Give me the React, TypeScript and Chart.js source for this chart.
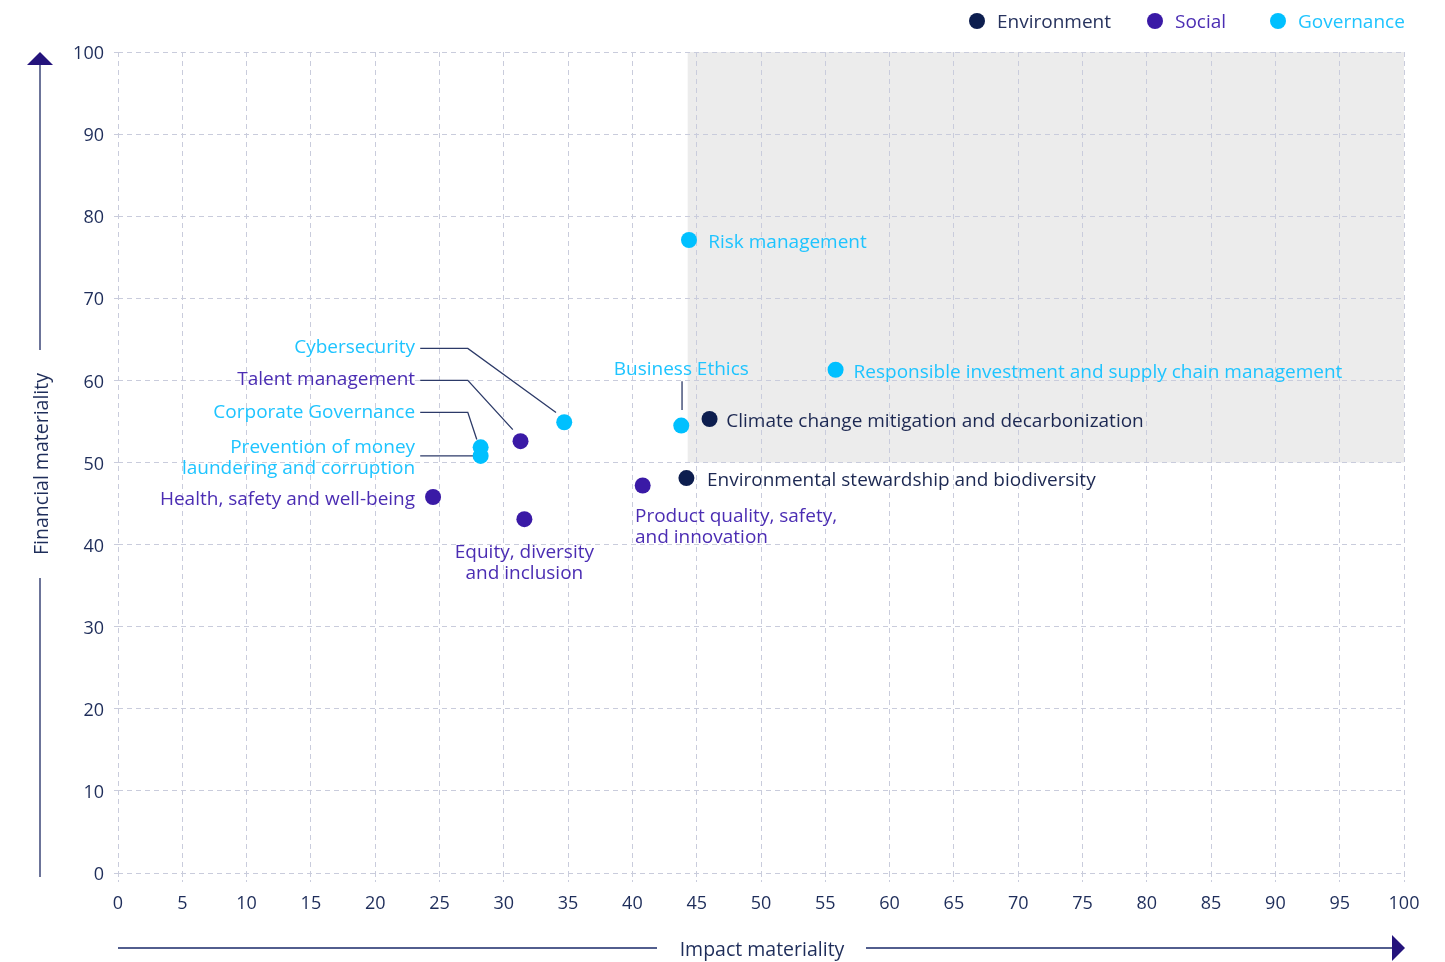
import { useEffect, useRef } from "react";
import { Chart, registerables } from "chart.js";

Chart.register(...registerables);

const FONT = "'Open Sans', sans-serif";

// ---- Data ----
const seriesNames = ["Environment", "Social", "Governance"];

const environmentTopics = [
  "Climate change mitigation and decarbonization",
  "Environmental stewardship and biodiversity",
];
const environmentImpact = [46.0, 44.2];
const environmentFinancial = [55.3, 48.1];

const socialTopics = [
  "Talent management",
  "Health, safety and well-being",
  "Equity, diversity and inclusion",
  "Product quality, safety, and innovation",
];
const socialImpact = [31.3, 24.5, 31.6, 40.8];
const socialFinancial = [52.6, 45.8, 43.1, 47.2];

const governanceTopics = [
  "Risk management",
  "Responsible investment and supply chain management",
  "Business Ethics",
  "Cybersecurity",
  "Corporate Governance",
  "Prevention of money laundering and corruption",
];
const governanceImpact = [44.4, 55.8, 43.8, 34.7, 28.2, 28.2];
const governanceFinancial = [77.1, 61.3, 54.5, 54.9, 51.85, 50.8];

const xTicks = [0, 5, 10, 15, 20, 25, 30, 35, 40, 45, 50, 55, 60, 65, 70, 75, 80, 85, 90, 95, 100];
const yTicks = [0, 10, 20, 30, 40, 50, 60, 70, 80, 90, 100];

const xAxisTitle = "Impact materiality";
const yAxisTitle = "Financial materiality";

// shaded "material" region (data units)
const shadeFromImpact = 44.3;
const shadeFromFinancial = 50;

// ---- Styles ----
const pointColors = ["#0d1e4f", "#3a1aa6", "#00c0ff"];
const labelColors = ["#1c2852", "#4b2db3", "#1ec4ff"];
const tickColor = "#1e2d5a";
const gridColor = "#c9ccdc";
const leaderColor = "#2c3a68";
const TEXT_DY = 2;

// ---- Label layout (data units for anchors) ----
type LabelSpec = {
  lines: string[];
  x: number;
  y: number;
  align: CanvasTextAlign;
  color: string;
  leader?: [number, number][];
};

const labelLayout: LabelSpec[] = [
  { lines: ["Cybersecurity"], x: 23.1, y: 64.3, align: "right", color: labelColors[2], leader: [[23.5, 63.9], [27.2, 63.9], [34.06, 56.1]] },
  { lines: ["Talent management"], x: 23.1, y: 60.3, align: "right", color: labelColors[1], leader: [[23.5, 60.0], [27.2, 60.0], [30.7, 54.0]] },
  { lines: ["Corporate Governance"], x: 23.1, y: 56.3, align: "right", color: labelColors[2], leader: [[23.5, 56.1], [27.2, 56.1], [27.9, 52.8]] },
  { lines: ["Prevention of money", "laundering and corruption"], x: 23.1, y: 52.1, align: "right", color: labelColors[2], leader: [[23.5, 50.8], [28.0, 50.8]] },
  { lines: ["Health, safety and well-being"], x: 23.1, y: 45.7, align: "right", color: labelColors[1] },
  { lines: ["Equity, diversity", "and inclusion"], x: 31.6, y: 39.3, align: "center", color: labelColors[1] },
  { lines: ["Product quality, safety,", "and innovation"], x: 40.2, y: 43.6, align: "left", color: labelColors[1] },
  { lines: ["Environmental stewardship and biodiversity"], x: 45.8, y: 48.0, align: "left", color: labelColors[0] },
  { lines: ["Climate change mitigation and decarbonization"], x: 47.3, y: 55.2, align: "left", color: labelColors[0] },
  { lines: ["Business Ethics"], x: 43.8, y: 61.6, align: "center", color: labelColors[2], leader: [[43.86, 59.9], [43.86, 56.4]] },
  { lines: ["Responsible investment and supply chain management"], x: 57.2, y: 61.2, align: "left", color: labelColors[2] },
  { lines: ["Risk management"], x: 45.9, y: 77.0, align: "left", color: labelColors[2] },
];

const toPoints = (xs: number[], ys: number[]) => xs.map((x, i) => ({ x, y: ys[i] }));

const decorPlugin = {
  id: "decor",
  beforeDraw(chart: any) {
    const { ctx, chartArea, scales } = chart;
    const x0 = scales.x.getPixelForValue(shadeFromImpact);
    const y0 = scales.y.getPixelForValue(shadeFromFinancial);
    ctx.save();
    ctx.fillStyle = "#ececec";
    ctx.fillRect(x0, chartArea.top, chartArea.right - x0, y0 - chartArea.top);
    ctx.restore();
  },
  beforeDatasetsDraw(chart: any) {
    const { ctx, scales } = chart;
    ctx.save();
    ctx.strokeStyle = leaderColor;
    ctx.lineWidth = 1.3;
    labelLayout.forEach((l) => {
      if (!l.leader) return;
      ctx.beginPath();
      l.leader.forEach(([vx, vy], i) => {
        const px = scales.x.getPixelForValue(vx);
        const py = scales.y.getPixelForValue(vy);
        if (i === 0) ctx.moveTo(px, py);
        else ctx.lineTo(px, py);
      });
      ctx.stroke();
    });
    ctx.restore();
  },
  afterDatasetsDraw(chart: any) {
    const { ctx, scales, chartArea } = chart;
    ctx.save();
    ctx.font = `19px ${FONT}`;
    ctx.textBaseline = "middle";
    labelLayout.forEach((l) => {
      ctx.fillStyle = l.color;
      ctx.textAlign = l.align;
      const px = scales.x.getPixelForValue(l.x);
      const py = scales.y.getPixelForValue(l.y) + TEXT_DY;
      l.lines.forEach((t, i) => ctx.fillText(t, px, py + i * 21));
    });

    // legend
    const legendX = [977, 1155, 1278];
    seriesNames.forEach((n, i) => {
      ctx.fillStyle = pointColors[i];
      ctx.beginPath();
      ctx.arc(legendX[i], 21, 8, 0, Math.PI * 2);
      ctx.fill();
      ctx.fillStyle = i === 0 ? "#27335e" : labelColors[i];
      ctx.textAlign = "left";
      ctx.fillText(n, legendX[i] + 20, 21 + TEXT_DY);
    });

    ctx.font = `19.5px ${FONT}`;
    // y axis arrow
    const ax = 40;
    ctx.strokeStyle = "#6c7499";
    ctx.lineWidth = 2;
    ctx.beginPath();
    ctx.moveTo(ax, 64);
    ctx.lineTo(ax, 350);
    ctx.moveTo(ax, 578);
    ctx.lineTo(ax, 877);
    ctx.stroke();
    ctx.fillStyle = "#24137c";
    ctx.beginPath();
    ctx.moveTo(ax, 52);
    ctx.lineTo(ax - 13, 65);
    ctx.lineTo(ax + 13, 65);
    ctx.closePath();
    ctx.fill();
    ctx.save();
    ctx.translate(ax + TEXT_DY, 464);
    ctx.rotate(-Math.PI / 2);
    ctx.fillStyle = tickColor;
    ctx.textAlign = "center";
    ctx.fillText(yAxisTitle, 0, 0);
    ctx.restore();

    // x axis arrow
    const ay = 948;
    ctx.strokeStyle = "#1a2a6a";
    ctx.lineWidth = 1.5;
    ctx.beginPath();
    ctx.moveTo(chartArea.left, ay);
    ctx.lineTo(657, ay);
    ctx.moveTo(866, ay);
    ctx.lineTo(1393, ay);
    ctx.stroke();
    ctx.fillStyle = "#24137c";
    ctx.beginPath();
    ctx.moveTo(1405, ay);
    ctx.lineTo(1392, ay - 13);
    ctx.lineTo(1392, ay + 13);
    ctx.closePath();
    ctx.fill();
    ctx.fillStyle = tickColor;
    ctx.textAlign = "center";
    ctx.fillText(xAxisTitle, 762, ay + TEXT_DY);
    ctx.restore();
  },
};

export default function App() {
  const ref = useRef<HTMLCanvasElement>(null);
  useEffect(() => {
    if (!ref.current) return;
    const pts = [
      toPoints(environmentImpact, environmentFinancial),
      toPoints(socialImpact, socialFinancial),
      toPoints(governanceImpact, governanceFinancial),
    ];
    const chart = new Chart(ref.current, {
      type: "scatter",
      data: {
        datasets: seriesNames.map((n, i) => ({
          label: n,
          data: pts[i],
          backgroundColor: pointColors[i],
          borderWidth: 0,
          pointRadius: 8,
          pointHoverRadius: 8,
        })),
      },
      options: {
        responsive: false,
        animation: false,
        events: [],
        layout: { padding: { top: 52, right: 41, left: 0, bottom: 0 } },
        plugins: { legend: { display: false }, tooltip: { enabled: false } },
        scales: {
          x: {
            type: "linear",
            min: 0,
            max: 100,
            afterBuildTicks: (s: any) => { s.ticks = xTicks.map((v) => ({ value: v })); },
            afterFit: (s: any) => { s.height = 89; },
            ticks: { color: tickColor, font: { family: FONT, size: 18 }, padding: 11, maxRotation: 0, autoSkip: false },
            grid: { color: gridColor, lineWidth: 1, tickLength: 9, tickBorderDash: [4, 3] },
            border: { display: false, dash: [5, 4] },
          },
          y: {
            type: "linear",
            min: 0,
            max: 100,
            afterBuildTicks: (s: any) => { s.ticks = yTicks.map((v) => ({ value: v })); },
            afterFit: (s: any) => { s.width = 118; },
            ticks: { color: tickColor, font: { family: FONT, size: 18 }, padding: 10, labelOffset: 2, autoSkip: false },
            grid: { color: gridColor, lineWidth: 1, tickLength: 4 },
            border: { display: false, dash: [5, 4] },
          },
        },
      },
      plugins: [decorPlugin],
    });
    return () => chart.destroy();
  }, []);
  return (
    <div style={{ position: "absolute", left: 0, top: 0, width: 1445, height: 962, background: "#fff" }}>
      <canvas ref={ref} width={1445} height={962} style={{ display: "block" }} />
    </div>
  );
}
